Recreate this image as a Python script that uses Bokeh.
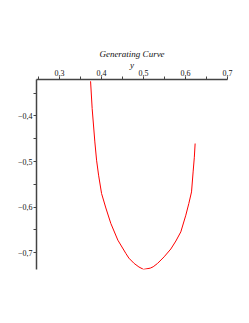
from bokeh.plotting import figure
from bokeh.models import Range1d, CustomJSTickFormatter, FixedTicker
from bokeh.embed import file_html
from bokeh.resources import INLINE

curve_x = [0.3738, 0.3776, 0.3840, 0.3881, 0.3929, 0.4000, 0.4102, 0.4221, 0.4388, 0.4579,
           0.4650, 0.4776, 0.4890, 0.5000, 0.5160, 0.5230, 0.5333, 0.5490, 0.5650, 0.5770,
           0.5888, 0.6007, 0.6079, 0.6143, 0.6181, 0.6210, 0.6229]
curve_y = [-0.3239, -0.3838, -0.4570, -0.4971, -0.5300, -0.5702, -0.6020, -0.6360, -0.6726, -0.7018,
           -0.7120, -0.7237, -0.7315, -0.7368, -0.7340, -0.7310, -0.7237, -0.7092, -0.6920, -0.6745,
           -0.6544, -0.6178, -0.5921, -0.5667, -0.5228, -0.4906, -0.4605]

x_ticks = [0.3, 0.4, 0.5, 0.6, 0.7]
x_minor = [0.25, 0.35, 0.45, 0.55, 0.65]
y_ticks = [-0.4, -0.5, -0.6, -0.7]
y_minor = [-0.35, -0.45, -0.55, -0.65]

p = figure(width=241, height=315, output_backend="svg", toolbar_location=None,
           x_range=Range1d(0.245, 0.7), y_range=Range1d(-0.737, -0.32),
           x_axis_location="above", y_axis_location="left",
           min_border_left=36, min_border_right=14, min_border_top=79, min_border_bottom=46)
p.outline_line_color = None
p.grid.visible = False
p.background_fill_color = "white"
p.border_fill_color = "white"

p.line(curve_x, curve_y, line_color="#ff0000", line_width=1)

fmt = CustomJSTickFormatter(code="""
var s = Math.abs(tick).toFixed(1).replace('.', ',');
return (tick < 0 ? '\u2212' : '') + s;
""")

for ax, maj, mn in ((p.xaxis[0], x_ticks, x_minor), (p.yaxis[0], y_ticks, y_minor)):
    ax.ticker = FixedTicker(ticks=maj, minor_ticks=mn)
    ax.formatter = fmt
    ax.major_label_text_font = "Liberation Serif"
    ax.major_label_text_font_size = "8px"
    ax.major_label_text_color = "#111111"
    ax.axis_line_color = "#444444"
    ax.axis_line_width = 1.5
    ax.major_tick_line_color = "#444444"
    ax.minor_tick_line_color = "#444444"
    ax.major_tick_out = 3
    ax.major_tick_in = 0
    ax.minor_tick_out = 3
    ax.minor_tick_in = 0
    ax.major_label_standoff = 1

p.xaxis[0].axis_label = "y"
p.xaxis[0].axis_label_text_font = "Liberation Serif"
p.xaxis[0].axis_label_text_font_style = "italic"
p.xaxis[0].axis_label_text_font_size = "9px"
p.xaxis[0].axis_label_text_color = "#111111"
p.xaxis[0].axis_label_standoff = -3

p.title.text = "Generating Curve"
p.title.text_font = "Liberation Serif"
p.title.text_font_style = "italic"
p.title.text_font_size = "9px"
p.title.text_color = "#111111"
p.title.align = "center"
p.title.offset = -10
p.title.standoff = -4

open("out.html", "w").write(file_html(p, INLINE))
